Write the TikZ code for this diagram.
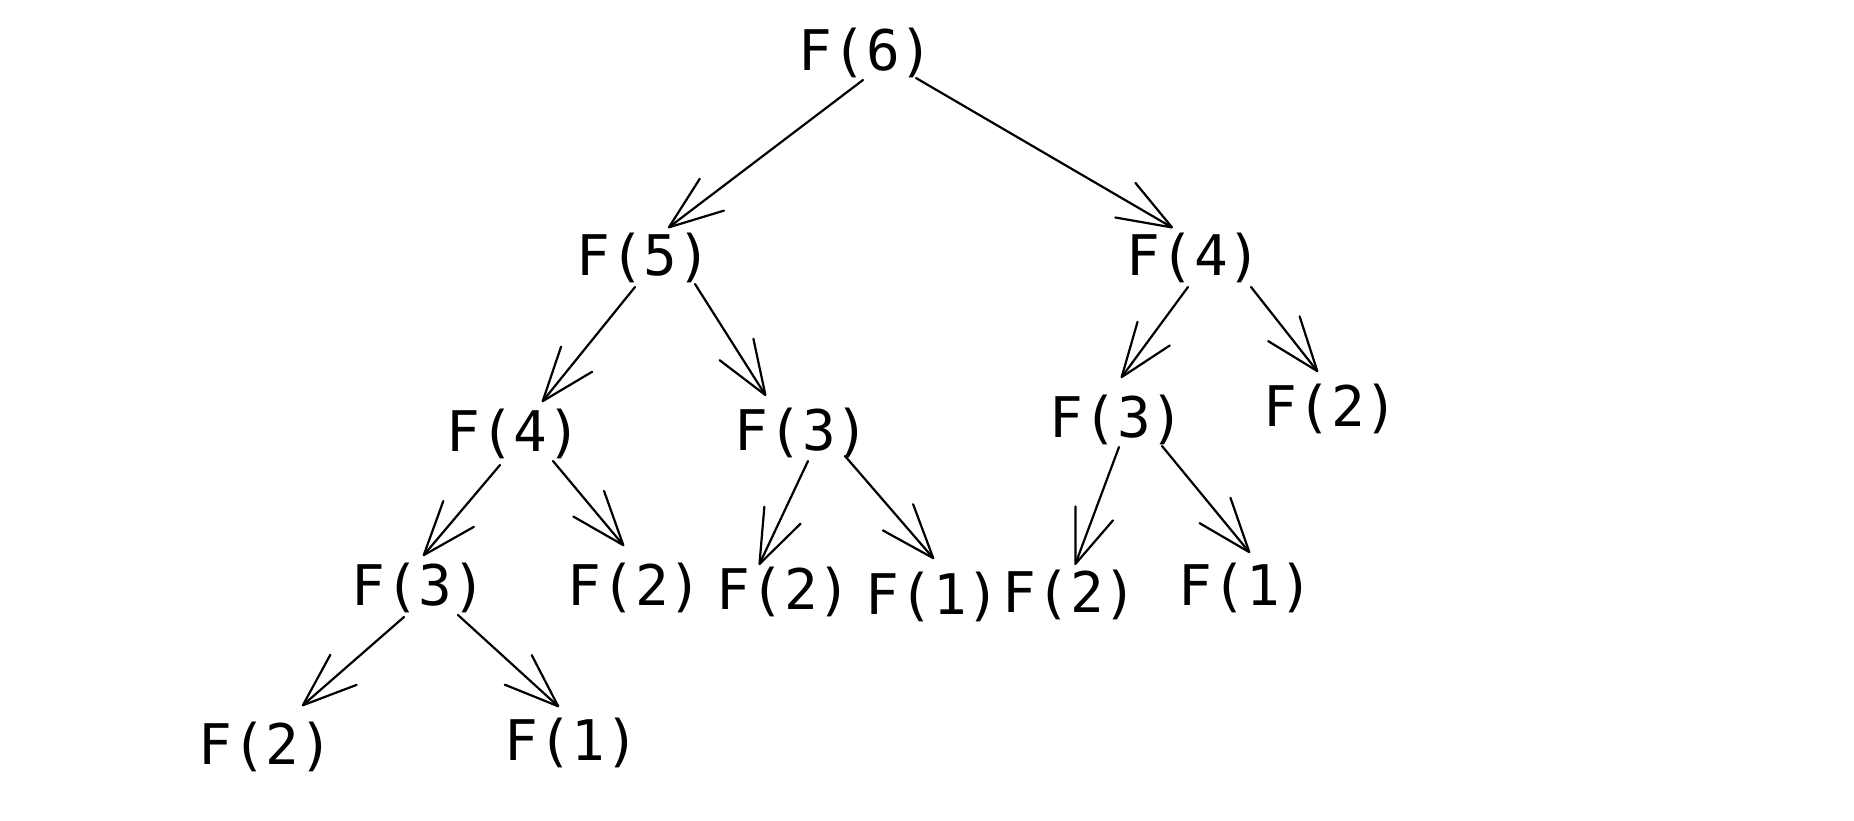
\documentclass[tikz,border=0pt]{standalone}
\usepackage{fontspec}
\setmonofont{DejaVu Sans Mono}
\usetikzlibrary{arrows.meta,calc}
\begin{document}
\begin{tikzpicture}[x=0.5pt,y=-0.5pt,
  call/.style={inner sep=0pt, font=\ttfamily\fontsize{28}{32}\selectfont},
  arr/.style={line width=1.1pt, line cap=round, line join=round,
    -{Straight Barb[length=27pt,width=20pt,line width=1.1pt,round]}}]
\useasboundingbox (0,0) rectangle (1854,820);
% call tree of the naive Fibonacci recursion
\node[call] (f6)  at (866,53)   {F(6)};
\node[call] (f5)  at (644,258)  {F(5)};
\node[call] (f4r) at (1194,258) {F(4)};
\node[call] (f4l) at (514,434)  {F(4)};
\node[call] (f3m) at (802,433)  {F(3)};
\node[call] (f3r) at (1117,420) {F(3)};
\node[call] (f2r) at (1331,409) {F(2)};
\node[call] (f3l) at (419,588)  {F(3)};
\node[call] (f2a) at (635,588)  {F(2)};
\node[call] (f2b) at (784,592)  {F(2)};
\node[call] (f1a) at (933,597)  {F(1)};
\node[call] (f2c) at (1070,595) {F(2)};
\node[call] (f1b) at (1246,588) {F(1)};
\node[call] (f2d) at (266,747)  {F(2)};
\node[call] (f1c) at (572,743)  {F(1)};
% recursive calls
\draw[arr] ($(f6)+(-3,27)$)  -- ($(f5)+(24,-30)$);
\draw[arr] ($(f6)+(50,25)$)  -- ($(f4r)+(-21,-30)$);
\draw[arr] ($(f5)+(-9,29)$)  -- ($(f4l)+(28,-32)$);
\draw[arr] ($(f5)+(51,26)$)  -- ($(f3m)+(-36,-37)$);
\draw[arr] ($(f4r)+(-6,29)$) -- ($(f3r)+(4,-42)$);
\draw[arr] ($(f4r)+(57,29)$) -- ($(f2r)+(-13,-37)$);
\draw[arr] ($(f4l)+(-14,31)$) -- ($(f3l)+(4,-32)$);
\draw[arr] ($(f4l)+(39,27)$) -- ($(f2a)+(-11,-42)$);
\draw[arr] ($(f3m)+(6,28)$)  -- ($(f2b)+(-25,-27)$);
\draw[arr] ($(f3m)+(43,23)$) -- ($(f1a)+(1,-38)$);
\draw[arr] ($(f3r)+(2,27)$)  -- ($(f2c)+(5,-30)$);
\draw[arr] ($(f3r)+(45,26)$) -- ($(f1b)+(4,-35)$);
\draw[arr] ($(f3l)+(-15,29)$) -- ($(f2d)+(36,-41)$);
\draw[arr] ($(f3l)+(39,27)$) -- ($(f1c)+(-13,-36)$);
\end{tikzpicture}
\end{document}
